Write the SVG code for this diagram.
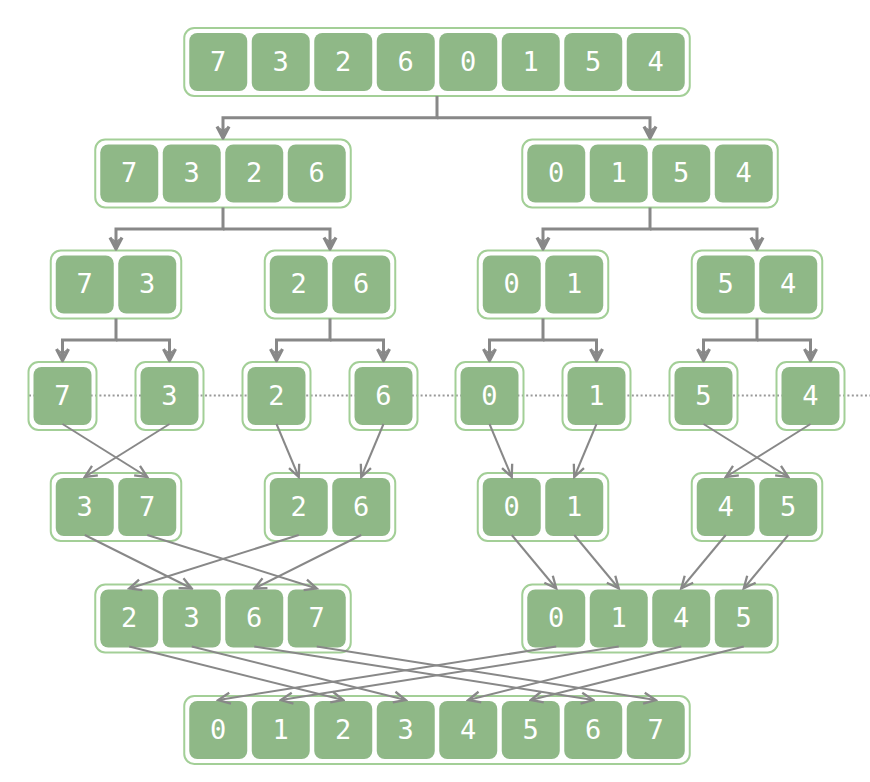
<svg xmlns="http://www.w3.org/2000/svg" width="870" height="782" viewBox="0 0 870 782">
<style>
.frame{fill:none;stroke:#a3cf97;stroke-width:2}
.cell{fill:#8fb887}
.t{font-family:"DejaVu Sans Mono","Liberation Mono",monospace;font-size:27px;fill:#ffffff;text-anchor:middle}
.tree{fill:none;stroke:#888888;stroke-width:3}
.mg{fill:none;stroke:#888888;stroke-width:2}
.dot{stroke:#999999;stroke-width:2;stroke-dasharray:2 2.4}
</style>
<defs>
<marker id="ta" viewBox="0 0 16 16" refX="13" refY="8" markerWidth="16" markerHeight="16" markerUnits="userSpaceOnUse" orient="auto"><path d="M1.5,2 L13,8 L1.5,14" fill="none" stroke="#888888" stroke-width="3.2" stroke-linejoin="round"/><path d="M2,4 L11,8 L2,12 L5,8 z" fill="#888888"/></marker>
<marker id="ma" viewBox="-1 -1 15 15" refX="12" refY="6.5" markerWidth="15" markerHeight="15" markerUnits="userSpaceOnUse" orient="auto"><path d="M0,1 L12,6.5 L0,12" fill="none" stroke="#888888" stroke-width="2.3"/></marker>
</defs>
<rect width="870" height="782" fill="#ffffff"/>
<line class="dot" x1="29" y1="395.5" x2="870" y2="395.5"/>

<g id="L1">
<rect class="frame" x="184.25" y="28" width="505.5" height="68" rx="10"/>
<rect class="cell" x="189.25" y="33" width="58" height="58" rx="8"/><text class="t" x="218.25" y="70.5">7</text>
<rect class="cell" x="251.75" y="33" width="58" height="58" rx="8"/><text class="t" x="280.75" y="70.5">3</text>
<rect class="cell" x="314.25" y="33" width="58" height="58" rx="8"/><text class="t" x="343.25" y="70.5">2</text>
<rect class="cell" x="376.75" y="33" width="58" height="58" rx="8"/><text class="t" x="405.75" y="70.5">6</text>
<rect class="cell" x="439.25" y="33" width="58" height="58" rx="8"/><text class="t" x="468.25" y="70.5">0</text>
<rect class="cell" x="501.75" y="33" width="58" height="58" rx="8"/><text class="t" x="530.75" y="70.5">1</text>
<rect class="cell" x="564.25" y="33" width="58" height="58" rx="8"/><text class="t" x="593.25" y="70.5">5</text>
<rect class="cell" x="626.75" y="33" width="58" height="58" rx="8"/><text class="t" x="655.75" y="70.5">4</text>
</g>

<g id="L2a">
<rect class="frame" x="95.25" y="139.5" width="255.5" height="68" rx="10"/>
<rect class="cell" x="100.25" y="144.5" width="58" height="58" rx="8"/><text class="t" x="129.25" y="182">7</text>
<rect class="cell" x="162.75" y="144.5" width="58" height="58" rx="8"/><text class="t" x="191.75" y="182">3</text>
<rect class="cell" x="225.25" y="144.5" width="58" height="58" rx="8"/><text class="t" x="254.25" y="182">2</text>
<rect class="cell" x="287.75" y="144.5" width="58" height="58" rx="8"/><text class="t" x="316.75" y="182">6</text>
</g>
<g id="L2b">
<rect class="frame" x="522.25" y="139.5" width="255.5" height="68" rx="10"/>
<rect class="cell" x="527.25" y="144.5" width="58" height="58" rx="8"/><text class="t" x="556.25" y="182">0</text>
<rect class="cell" x="589.75" y="144.5" width="58" height="58" rx="8"/><text class="t" x="618.75" y="182">1</text>
<rect class="cell" x="652.25" y="144.5" width="58" height="58" rx="8"/><text class="t" x="681.25" y="182">5</text>
<rect class="cell" x="714.75" y="144.5" width="58" height="58" rx="8"/><text class="t" x="743.75" y="182">4</text>
</g>

<g id="L3a">
<rect class="frame" x="50.75" y="250.5" width="130.5" height="68" rx="10"/>
<rect class="cell" x="55.75" y="255.5" width="58" height="58" rx="8"/><text class="t" x="84.75" y="293">7</text>
<rect class="cell" x="118.25" y="255.5" width="58" height="58" rx="8"/><text class="t" x="147.25" y="293">3</text>
</g>
<g id="L3b">
<rect class="frame" x="264.75" y="250.5" width="130.5" height="68" rx="10"/>
<rect class="cell" x="269.75" y="255.5" width="58" height="58" rx="8"/><text class="t" x="298.75" y="293">2</text>
<rect class="cell" x="332.25" y="255.5" width="58" height="58" rx="8"/><text class="t" x="361.25" y="293">6</text>
</g>
<g id="L3c">
<rect class="frame" x="477.75" y="250.5" width="130.5" height="68" rx="10"/>
<rect class="cell" x="482.75" y="255.5" width="58" height="58" rx="8"/><text class="t" x="511.75" y="293">0</text>
<rect class="cell" x="545.25" y="255.5" width="58" height="58" rx="8"/><text class="t" x="574.25" y="293">1</text>
</g>
<g id="L3d">
<rect class="frame" x="691.75" y="250.5" width="130.5" height="68" rx="10"/>
<rect class="cell" x="696.75" y="255.5" width="58" height="58" rx="8"/><text class="t" x="725.75" y="293">5</text>
<rect class="cell" x="759.25" y="255.5" width="58" height="58" rx="8"/><text class="t" x="788.25" y="293">4</text>
</g>

<g id="L4a"><rect class="frame" x="28.5" y="362" width="68" height="68" rx="10"/><rect class="cell" x="33.5" y="367" width="58" height="58" rx="8"/><text class="t" x="62.5" y="404.5">7</text></g>
<g id="L4b"><rect class="frame" x="135.5" y="362" width="68" height="68" rx="10"/><rect class="cell" x="140.5" y="367" width="58" height="58" rx="8"/><text class="t" x="169.5" y="404.5">3</text></g>
<g id="L4c"><rect class="frame" x="242.5" y="362" width="68" height="68" rx="10"/><rect class="cell" x="247.5" y="367" width="58" height="58" rx="8"/><text class="t" x="276.5" y="404.5">2</text></g>
<g id="L4d"><rect class="frame" x="349.5" y="362" width="68" height="68" rx="10"/><rect class="cell" x="354.5" y="367" width="58" height="58" rx="8"/><text class="t" x="383.5" y="404.5">6</text></g>
<g id="L4e"><rect class="frame" x="455.5" y="362" width="68" height="68" rx="10"/><rect class="cell" x="460.5" y="367" width="58" height="58" rx="8"/><text class="t" x="489.5" y="404.5">0</text></g>
<g id="L4f"><rect class="frame" x="562.5" y="362" width="68" height="68" rx="10"/><rect class="cell" x="567.5" y="367" width="58" height="58" rx="8"/><text class="t" x="596.5" y="404.5">1</text></g>
<g id="L4g"><rect class="frame" x="669.5" y="362" width="68" height="68" rx="10"/><rect class="cell" x="674.5" y="367" width="58" height="58" rx="8"/><text class="t" x="703.5" y="404.5">5</text></g>
<g id="L4h"><rect class="frame" x="776.5" y="362" width="68" height="68" rx="10"/><rect class="cell" x="781.5" y="367" width="58" height="58" rx="8"/><text class="t" x="810.5" y="404.5">4</text></g>

<g id="L5a">
<rect class="frame" x="50.75" y="473" width="130.5" height="68" rx="10"/>
<rect class="cell" x="55.75" y="478" width="58" height="58" rx="8"/><text class="t" x="84.75" y="515.5">3</text>
<rect class="cell" x="118.25" y="478" width="58" height="58" rx="8"/><text class="t" x="147.25" y="515.5">7</text>
</g>
<g id="L5b">
<rect class="frame" x="264.75" y="473" width="130.5" height="68" rx="10"/>
<rect class="cell" x="269.75" y="478" width="58" height="58" rx="8"/><text class="t" x="298.75" y="515.5">2</text>
<rect class="cell" x="332.25" y="478" width="58" height="58" rx="8"/><text class="t" x="361.25" y="515.5">6</text>
</g>
<g id="L5c">
<rect class="frame" x="477.75" y="473" width="130.5" height="68" rx="10"/>
<rect class="cell" x="482.75" y="478" width="58" height="58" rx="8"/><text class="t" x="511.75" y="515.5">0</text>
<rect class="cell" x="545.25" y="478" width="58" height="58" rx="8"/><text class="t" x="574.25" y="515.5">1</text>
</g>
<g id="L5d">
<rect class="frame" x="691.75" y="473" width="130.5" height="68" rx="10"/>
<rect class="cell" x="696.75" y="478" width="58" height="58" rx="8"/><text class="t" x="725.75" y="515.5">4</text>
<rect class="cell" x="759.25" y="478" width="58" height="58" rx="8"/><text class="t" x="788.25" y="515.5">5</text>
</g>

<g id="L6a">
<rect class="frame" x="95.25" y="584.5" width="255.5" height="68" rx="10"/>
<rect class="cell" x="100.25" y="589.5" width="58" height="58" rx="8"/><text class="t" x="129.25" y="627">2</text>
<rect class="cell" x="162.75" y="589.5" width="58" height="58" rx="8"/><text class="t" x="191.75" y="627">3</text>
<rect class="cell" x="225.25" y="589.5" width="58" height="58" rx="8"/><text class="t" x="254.25" y="627">6</text>
<rect class="cell" x="287.75" y="589.5" width="58" height="58" rx="8"/><text class="t" x="316.75" y="627">7</text>
</g>
<g id="L6b">
<rect class="frame" x="522.25" y="584.5" width="255.5" height="68" rx="10"/>
<rect class="cell" x="527.25" y="589.5" width="58" height="58" rx="8"/><text class="t" x="556.25" y="627">0</text>
<rect class="cell" x="589.75" y="589.5" width="58" height="58" rx="8"/><text class="t" x="618.75" y="627">1</text>
<rect class="cell" x="652.25" y="589.5" width="58" height="58" rx="8"/><text class="t" x="681.25" y="627">4</text>
<rect class="cell" x="714.75" y="589.5" width="58" height="58" rx="8"/><text class="t" x="743.75" y="627">5</text>
</g>

<g id="L7">
<rect class="frame" x="184.25" y="696" width="505.5" height="68" rx="10"/>
<rect class="cell" x="189.25" y="701" width="58" height="58" rx="8"/><text class="t" x="218.25" y="738.5">0</text>
<rect class="cell" x="251.75" y="701" width="58" height="58" rx="8"/><text class="t" x="280.75" y="738.5">1</text>
<rect class="cell" x="314.25" y="701" width="58" height="58" rx="8"/><text class="t" x="343.25" y="738.5">2</text>
<rect class="cell" x="376.75" y="701" width="58" height="58" rx="8"/><text class="t" x="405.75" y="738.5">3</text>
<rect class="cell" x="439.25" y="701" width="58" height="58" rx="8"/><text class="t" x="468.25" y="738.5">4</text>
<rect class="cell" x="501.75" y="701" width="58" height="58" rx="8"/><text class="t" x="530.75" y="738.5">5</text>
<rect class="cell" x="564.25" y="701" width="58" height="58" rx="8"/><text class="t" x="593.25" y="738.5">6</text>
<rect class="cell" x="626.75" y="701" width="58" height="58" rx="8"/><text class="t" x="655.75" y="738.5">7</text>
</g>

<g id="connectors">
<path class="tree" marker-end="url(#ta)" d="M437,96 V117.75 H223 V138"/>
<path class="tree" marker-end="url(#ta)" d="M437,117.75 H650 V138"/>
<path class="tree" marker-end="url(#ta)" d="M223,207.5 V229 H116 V249"/>
<path class="tree" marker-end="url(#ta)" d="M223,229 H330 V249"/>
<path class="tree" marker-end="url(#ta)" d="M650,207.5 V229 H543 V249"/>
<path class="tree" marker-end="url(#ta)" d="M650,229 H757 V249"/>
<path class="tree" marker-end="url(#ta)" d="M116,318.5 V340 H62.5 V360.5"/>
<path class="tree" marker-end="url(#ta)" d="M116,340 H169.5 V360.5"/>
<path class="tree" marker-end="url(#ta)" d="M330,318.5 V340 H276.5 V360.5"/>
<path class="tree" marker-end="url(#ta)" d="M330,340 H383.5 V360.5"/>
<path class="tree" marker-end="url(#ta)" d="M543,318.5 V340 H489.5 V360.5"/>
<path class="tree" marker-end="url(#ta)" d="M543,340 H596.5 V360.5"/>
<path class="tree" marker-end="url(#ta)" d="M757,318.5 V340 H703.5 V360.5"/>
<path class="tree" marker-end="url(#ta)" d="M757,340 H810.5 V360.5"/>

<line class="mg" marker-end="url(#ma)" x1="62.5" y1="424" x2="147.25" y2="477"/>
<line class="mg" marker-end="url(#ma)" x1="169.5" y1="424" x2="84.75" y2="477"/>
<line class="mg" marker-end="url(#ma)" x1="276.5" y1="424" x2="298.75" y2="477"/>
<line class="mg" marker-end="url(#ma)" x1="383.5" y1="424" x2="361.25" y2="477"/>
<line class="mg" marker-end="url(#ma)" x1="489.5" y1="424" x2="511.75" y2="477"/>
<line class="mg" marker-end="url(#ma)" x1="596.5" y1="424" x2="574.25" y2="477"/>
<line class="mg" marker-end="url(#ma)" x1="703.5" y1="424" x2="788.25" y2="477"/>
<line class="mg" marker-end="url(#ma)" x1="810.5" y1="424" x2="725.75" y2="477"/>

<line class="mg" marker-end="url(#ma)" x1="84.75" y1="535" x2="191.75" y2="588.5"/>
<line class="mg" marker-end="url(#ma)" x1="147.25" y1="535" x2="316.75" y2="588.5"/>
<line class="mg" marker-end="url(#ma)" x1="298.75" y1="535" x2="129.25" y2="588.5"/>
<line class="mg" marker-end="url(#ma)" x1="361.25" y1="535" x2="254.25" y2="588.5"/>
<line class="mg" marker-end="url(#ma)" x1="511.75" y1="535" x2="556.25" y2="588.5"/>
<line class="mg" marker-end="url(#ma)" x1="574.25" y1="535" x2="618.75" y2="588.5"/>
<line class="mg" marker-end="url(#ma)" x1="725.75" y1="535" x2="681.25" y2="588.5"/>
<line class="mg" marker-end="url(#ma)" x1="788.25" y1="535" x2="743.75" y2="588.5"/>

<line class="mg" marker-end="url(#ma)" x1="129.25" y1="646.5" x2="343.25" y2="700"/>
<line class="mg" marker-end="url(#ma)" x1="191.75" y1="646.5" x2="405.75" y2="700"/>
<line class="mg" marker-end="url(#ma)" x1="254.25" y1="646.5" x2="593.25" y2="700"/>
<line class="mg" marker-end="url(#ma)" x1="316.75" y1="646.5" x2="655.75" y2="700"/>
<line class="mg" marker-end="url(#ma)" x1="556.25" y1="646.5" x2="218.25" y2="700"/>
<line class="mg" marker-end="url(#ma)" x1="618.75" y1="646.5" x2="280.75" y2="700"/>
<line class="mg" marker-end="url(#ma)" x1="681.25" y1="646.5" x2="468.25" y2="700"/>
<line class="mg" marker-end="url(#ma)" x1="743.75" y1="646.5" x2="530.75" y2="700"/>
</g>
</svg>
